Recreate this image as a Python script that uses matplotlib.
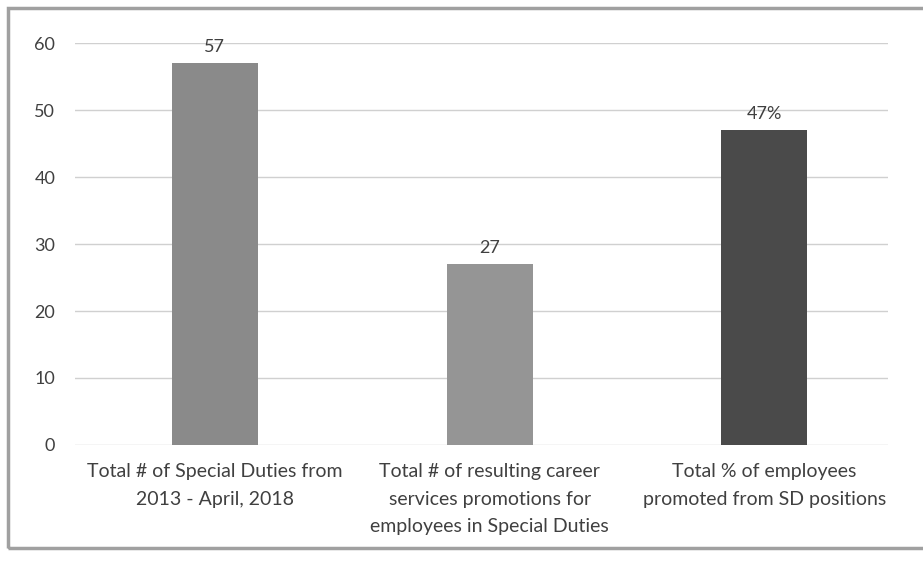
import matplotlib
matplotlib.use("Agg")
import matplotlib.pyplot as plt
from matplotlib.patches import Rectangle

categories = ["Total # of Special Duties from\n2013 - April, 2018",
              "Total # of resulting career\nservices promotions for\nemployees in Special Duties",
              "Total % of employees\npromoted from SD positions"]
values = [57, 27, 47]
labels = ["57", "27", "47%"]
colors = ["#8a8a8a", "#959595", "#4a4a4a"]
yticks = [0, 10, 20, 30, 40, 50, 60]

plt.rcParams['font.family'] = ['Lato', 'DejaVu Sans']
fig = plt.figure(figsize=(9.23, 5.63), dpi=100)
ax = fig.add_axes([0.081, 0.2096, 0.881, 0.714])

x = range(len(categories))
ax.bar(x, values, width=0.313, color=colors, zorder=3)
for xi, v, l in zip(x, values, labels):
    ax.text(xi, v + 1.2, l, ha='center', va='bottom', fontsize=13, color='#404040')

ax.set_ylim(0, 60)
ax.set_xlim(-0.51, 2.45)
ax.set_yticks(yticks)
ax.set_yticklabels([str(t) for t in yticks], fontsize=13, color='#404040')
ax.set_xticks(list(x))
ax.set_xticklabels(categories, fontsize=14, color='#404040', linespacing=1.75)
ax.tick_params(length=0, pad=14)
ax.tick_params(axis='x', pad=13)
ax.grid(axis='y', color='#d0d0d0', linewidth=1, zorder=0)
for s in ax.spines.values():
    s.set_visible(False)

fig.patches.append(Rectangle((0.009, 0.027), 0.995, 0.958, transform=fig.transFigure,
                             fill=False, edgecolor='#a0a0a0', linewidth=2.5))

fig.savefig("out.png", dpi=100)
